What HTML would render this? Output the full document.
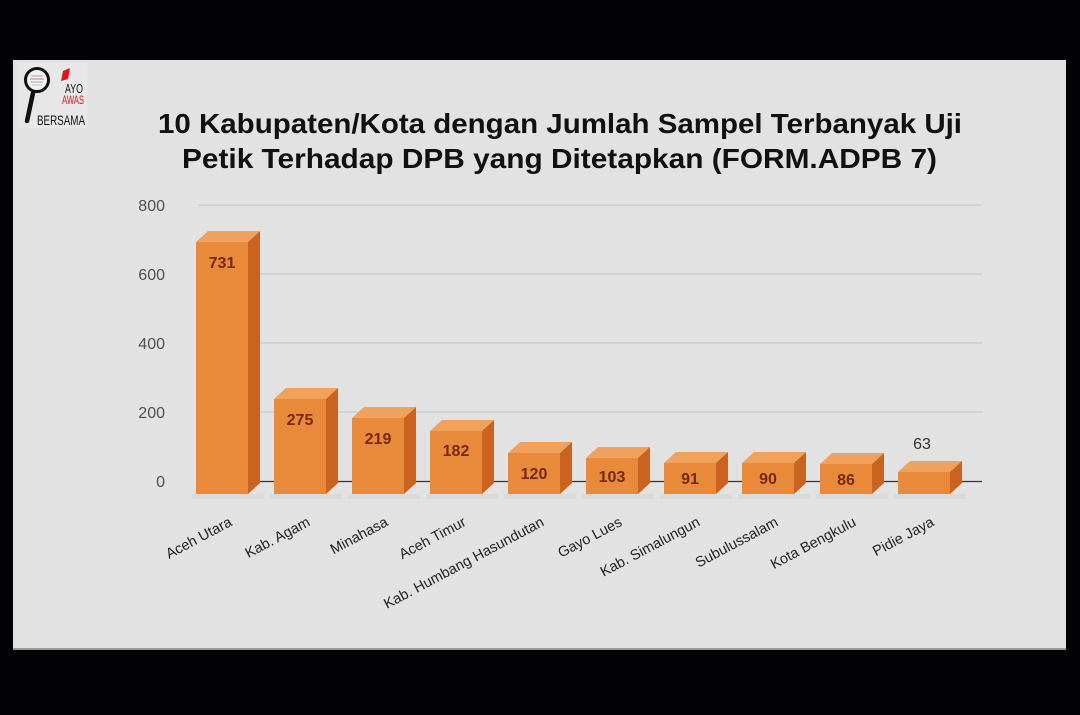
<!DOCTYPE html>
<html>
<head>
<meta charset="utf-8">
<style>
  html,body{margin:0;padding:0;background:#030305;}
  svg{display:block;}
</style>
</head>
<body>
<svg width="1080" height="715" viewBox="0 0 1080 715" xmlns="http://www.w3.org/2000/svg">
  <rect x="0" y="0" width="1080" height="715" fill="#030305"/>
  <rect x="13" y="60" width="1053" height="590" fill="#e2e2e2"/>
  <rect x="13" y="648" width="1053" height="2" fill="#9a9a9a"/>

  <!-- logo -->
  <g>
    <rect x="19" y="63" width="68" height="65" fill="#e7e7e7"/>
    <line x1="33" y1="93" x2="27" y2="121" stroke="#111" stroke-width="4.5" stroke-linecap="round"/>
    <circle cx="37" cy="80" r="11.5" fill="#f2f2f2" stroke="#111" stroke-width="3"/>
    <line x1="31" y1="76" x2="43" y2="76" stroke="#999" stroke-width="0.8"/>
    <line x1="30" y1="79" x2="44" y2="79" stroke="#c55" stroke-width="0.8"/>
    <line x1="31" y1="82" x2="43" y2="82" stroke="#999" stroke-width="0.8"/>
    <line x1="32" y1="85" x2="42" y2="85" stroke="#bbb" stroke-width="0.8"/>
    <polygon points="63,71 70,68 68,79 61,81" fill="#e0141c"/>
    <text x="65" y="93" font-family="Liberation Sans, sans-serif" font-size="13" fill="#111" textLength="18" lengthAdjust="spacingAndGlyphs">AYO</text>
    <text x="62" y="104" font-family="Liberation Sans, sans-serif" font-size="12" fill="#d0141c" textLength="22" lengthAdjust="spacingAndGlyphs">AWAS</text>
    <text x="37" y="125" font-family="Liberation Sans, sans-serif" font-size="14" fill="#111" textLength="48" lengthAdjust="spacingAndGlyphs">BERSAMA</text>
  </g>

  <!-- title -->
  <text x="158" y="133" font-family="Liberation Sans, sans-serif" font-weight="bold" font-size="28" fill="#111" textLength="804" lengthAdjust="spacingAndGlyphs">10 Kabupaten/Kota dengan Jumlah Sampel Terbanyak Uji</text>
  <text x="182" y="168" font-family="Liberation Sans, sans-serif" font-weight="bold" font-size="28" fill="#111" textLength="755" lengthAdjust="spacingAndGlyphs">Petik Terhadap DPB yang Ditetapkan (FORM.ADPB 7)</text>

  <!-- gridlines -->
  <g stroke="#c8c8c8" stroke-width="1.2">
    <line x1="198" y1="205" x2="982" y2="205"/>
    <line x1="198" y1="274" x2="982" y2="274"/>
    <line x1="198" y1="343" x2="982" y2="343"/>
    <line x1="198" y1="412" x2="982" y2="412"/>
  </g>
  <line x1="196" y1="481.5" x2="982" y2="481.5" stroke="#333" stroke-width="1.3"/>

  <!-- y tick labels -->
  <g font-family="Liberation Sans, sans-serif" font-size="16" fill="#505050" text-anchor="end">
    <text x="165" y="211">800</text>
    <text x="165" y="280">600</text>
    <text x="165" y="349">400</text>
    <text x="165" y="418">200</text>
    <text x="165" y="487">0</text>
  </g>

  <!-- bar shadows -->
  <g fill="#d6d6d6" opacity="0.6">
    <rect x="192" y="494" width="72" height="5"/>
    <rect x="270" y="494" width="72" height="5"/>
    <rect x="348" y="494" width="72" height="5"/>
    <rect x="426" y="494" width="72" height="5"/>
    <rect x="504" y="494" width="72" height="5"/>
    <rect x="582" y="494" width="72" height="5"/>
    <rect x="660" y="494" width="72" height="5"/>
    <rect x="738" y="494" width="72" height="5"/>
    <rect x="816" y="494" width="72" height="5"/>
    <rect x="894" y="494" width="72" height="5"/>
  </g>

  <!-- bars -->
  <g>
    <rect x="196" y="242" width="52" height="252" fill="#e98a3b"/>
    <polygon points="196,242 208,231 260,231 248,242" fill="#f0a25c"/>
    <polygon points="248,242 260,231 260,483 248,494" fill="#c9631f"/>

    <rect x="274" y="399" width="52" height="95" fill="#e98a3b"/>
    <polygon points="274,399 286,388 338,388 326,399" fill="#f0a25c"/>
    <polygon points="326,399 338,388 338,483 326,494" fill="#c9631f"/>

    <rect x="352" y="418" width="52" height="76" fill="#e98a3b"/>
    <polygon points="352,418 364,407 416,407 404,418" fill="#f0a25c"/>
    <polygon points="404,418 416,407 416,483 404,494" fill="#c9631f"/>

    <rect x="430" y="431" width="52" height="63" fill="#e98a3b"/>
    <polygon points="430,431 442,420 494,420 482,431" fill="#f0a25c"/>
    <polygon points="482,431 494,420 494,483 482,494" fill="#c9631f"/>

    <rect x="508" y="453" width="52" height="41" fill="#e98a3b"/>
    <polygon points="508,453 520,442 572,442 560,453" fill="#f0a25c"/>
    <polygon points="560,453 572,442 572,483 560,494" fill="#c9631f"/>

    <rect x="586" y="458" width="52" height="36" fill="#e98a3b"/>
    <polygon points="586,458 598,447 650,447 638,458" fill="#f0a25c"/>
    <polygon points="638,458 650,447 650,483 638,494" fill="#c9631f"/>

    <rect x="664" y="463" width="52" height="31" fill="#e98a3b"/>
    <polygon points="664,463 676,452 728,452 716,463" fill="#f0a25c"/>
    <polygon points="716,463 728,452 728,483 716,494" fill="#c9631f"/>

    <rect x="742" y="463" width="52" height="31" fill="#e98a3b"/>
    <polygon points="742,463 754,452 806,452 794,463" fill="#f0a25c"/>
    <polygon points="794,463 806,452 806,483 794,494" fill="#c9631f"/>

    <rect x="820" y="464" width="52" height="30" fill="#e98a3b"/>
    <polygon points="820,464 832,453 884,453 872,464" fill="#f0a25c"/>
    <polygon points="872,464 884,453 884,483 872,494" fill="#c9631f"/>

    <rect x="898" y="472" width="52" height="22" fill="#e98a3b"/>
    <polygon points="898,472 910,461 962,461 950,472" fill="#f0a25c"/>
    <polygon points="950,472 962,461 962,483 950,494" fill="#c9631f"/>
  </g>

  <!-- value labels -->
  <g font-family="Liberation Sans, sans-serif" font-size="16" font-weight="bold" fill="#762812" text-anchor="middle">
    <text x="222" y="268">731</text>
    <text x="300" y="425">275</text>
    <text x="378" y="444">219</text>
    <text x="456" y="456">182</text>
    <text x="534" y="479">120</text>
    <text x="612" y="482">103</text>
    <text x="690" y="484">91</text>
    <text x="768" y="484">90</text>
    <text x="846" y="485">86</text>
  </g>
  <text x="922" y="449" font-family="Liberation Sans, sans-serif" font-size="16" fill="#333" text-anchor="middle">63</text>

  <!-- x labels -->
  <g font-family="Liberation Sans, sans-serif" font-size="14.5" fill="#222" text-anchor="end">
    <text transform="translate(233,525) rotate(-28)">Aceh Utara</text>
    <text transform="translate(311,525) rotate(-28)">Kab. Agam</text>
    <text transform="translate(389,525) rotate(-28)">Minahasa</text>
    <text transform="translate(467,525) rotate(-28)">Aceh Timur</text>
    <text transform="translate(545,525) rotate(-28)">Kab. Humbang Hasundutan</text>
    <text transform="translate(623,525) rotate(-28)">Gayo Lues</text>
    <text transform="translate(701,525) rotate(-28)">Kab. Simalungun</text>
    <text transform="translate(779,525) rotate(-28)">Subulussalam</text>
    <text transform="translate(857,525) rotate(-28)">Kota Bengkulu</text>
    <text transform="translate(935,525) rotate(-28)">Pidie Jaya</text>
  </g>
</svg>
</body>
</html>
